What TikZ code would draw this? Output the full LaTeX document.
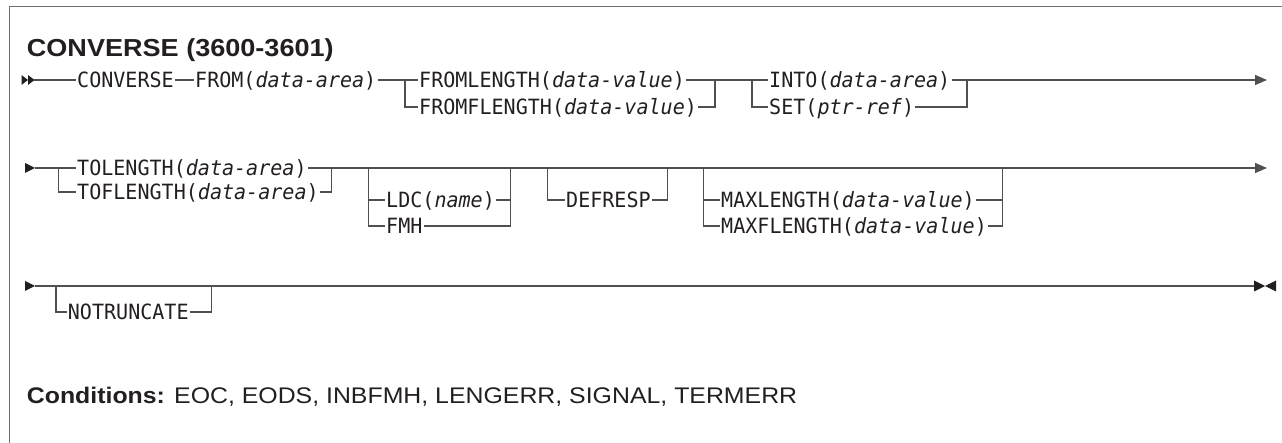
\documentclass[tikz,border=0pt]{standalone}
\usepackage{fontspec}
\setmainfont{Liberation Sans}[FakeStretch=1.1]
\newfontfamily\kwfont{DejaVu Sans Mono}[FakeStretch=0.955]
\usetikzlibrary{arrows.meta}
\definecolor{ink}{RGB}{35,31,32}
\definecolor{rail}{RGB}{80,80,80}
\definecolor{frame}{RGB}{110,110,110}
\begin{document}
\begin{tikzpicture}[x=1pt,y=-1pt,
  kw/.style={font=\kwfont\fontsize{21}{21}\selectfont, text=ink, anchor=west,
             inner xsep=1pt, inner ysep=0pt, text height=15.3pt, text depth=0pt},
  rr/.style={draw=rail, line width=1.3pt},
  tip/.style={fill=ink},
  endarrow/.style={-{Triangle[length=12pt,width=10pt]}}]
\useasboundingbox (0,0) rectangle (1282,443);
% frame
\draw[frame, line width=1.5pt] (9.5,443) -- (9.5,6.5) -- (1282,6.5);
% title
\node[anchor=base west, inner sep=0pt, text=ink, font=\bfseries\fontsize{24.6}{24.6}\selectfont] (title) at (26.7,56.5) {CONVERSE (3600-3601)};
% ---------- row A ----------
\fill[tip] (21.5,75) -- (28,80) -- (21.5,85) -- cycle;
\fill[tip] (28,75) -- (34.5,80) -- (28,85) -- cycle;
\coordinate (a0) at (34,80);
\node[kw] (conv) at (76,80) {CONVERSE};
\node[kw] (from) at (194,80) {FROM(\textit{data-area})};
\node[kw] (fl)   at (418,80) {FROMLENGTH(\textit{data-value})};
\node[kw] (ffl)  at (418,107) {FROMFLENGTH(\textit{data-value})};
\node[kw] (into) at (768,80) {INTO(\textit{data-area})};
\node[kw] (set)  at (768,107) {SET(\textit{ptr-ref})};
\coordinate (aj1) at (405,80);
\coordinate (aj2) at (715,80);
\coordinate (aj3) at (752,80);
\coordinate (aj4) at (967,80);
\coordinate (aend) at (1267,80);
\draw[rr] (a0) -- (conv.west);
\draw[rr] (conv.east) -- (from.west);
\draw[rr] (from.east) -- (fl.west);
\draw[rr] (aj1) |- (ffl.west);
\draw[rr] (fl.east) -- (into.west);
\draw[rr] (ffl.east) -| (aj2);
\draw[rr] (aj3) |- (set.west);
\draw[rr] (set.east) -| (aj4);
\draw[rr, endarrow] (into.east) -- (aend);
% ---------- row B ----------
\fill[tip] (25,163) -- (35,168) -- (25,173) -- cycle;
\coordinate (b0) at (35,168);
\node[kw] (tol)  at (76,168) {TOLENGTH(\textit{data-area})};
\node[kw] (tofl) at (76,192) {TOFLENGTH(\textit{data-area})};
\node[kw] (ldc)  at (385,200) {LDC(\textit{name})};
\node[kw] (fmh)  at (385,226) {FMH};
\node[kw] (def)  at (565,200) {DEFRESP};
\node[kw] (max)  at (720,200) {MAXLENGTH(\textit{data-value})};
\node[kw] (maxf) at (720,226) {MAXFLENGTH(\textit{data-value})};
\coordinate (bj1) at (58.3,168);
\coordinate (bj2) at (331.7,168);
\coordinate (bj3) at (368.3,168);
\coordinate (bj4) at (510.7,168);
\coordinate (bj5) at (547.3,168);
\coordinate (bj6) at (667.3,168);
\coordinate (bj7) at (703.3,168);
\coordinate (bj8) at (1002.7,168);
\coordinate (bend) at (1267,168);
\draw[rr] (b0) -- (tol.west);
\draw[rr, endarrow] (tol.east) -- (bend);
\draw[rr] (bj1) |- (tofl.west);
\draw[rr] (tofl.east) -| (bj2);
\draw[rr] (bj3) |- (fmh.west);
\draw[rr] (bj3 |- ldc.west) -- (ldc.west);
\draw[rr] (ldc.east) -- (bj4 |- ldc.east);
\draw[rr] (fmh.east) -| (bj4);
\draw[rr] (bj5) |- (def.west);
\draw[rr] (def.east) -| (bj6);
\draw[rr] (bj7) |- (maxf.west);
\draw[rr] (bj7 |- max.west) -- (max.west);
\draw[rr] (max.east) -- (bj8 |- max.east);
\draw[rr] (maxf.east) -| (bj8);
% ---------- row C ----------
\fill[tip] (25,281) -- (35,286) -- (25,291) -- cycle;
\coordinate (c0) at (35,286);
\node[kw] (nt) at (66.7,312) {NOTRUNCATE};
\coordinate (cj1) at (56,286);
\coordinate (cj2) at (211.7,286);
\coordinate (cend) at (1254,286);
\draw[rr] (c0) -- (cend);
\draw[rr] (cj1) |- (nt.west);
\draw[rr] (nt.east) -| (cj2);
\fill[tip] (1254,280.5) -- (1265,286) -- (1254,291.5) -- cycle;
\fill[tip] (1276,280.5) -- (1265,286) -- (1276,291.5) -- cycle;
% conditions
\node[anchor=base west, inner sep=0pt, text=ink, font=\fontsize{22.6}{22.6}\selectfont] (cond) at (26.7,403) {\textbf{Conditions:} EOC, EODS, INBFMH, LENGERR, SIGNAL, TERMERR};
\end{tikzpicture}
\end{document}
